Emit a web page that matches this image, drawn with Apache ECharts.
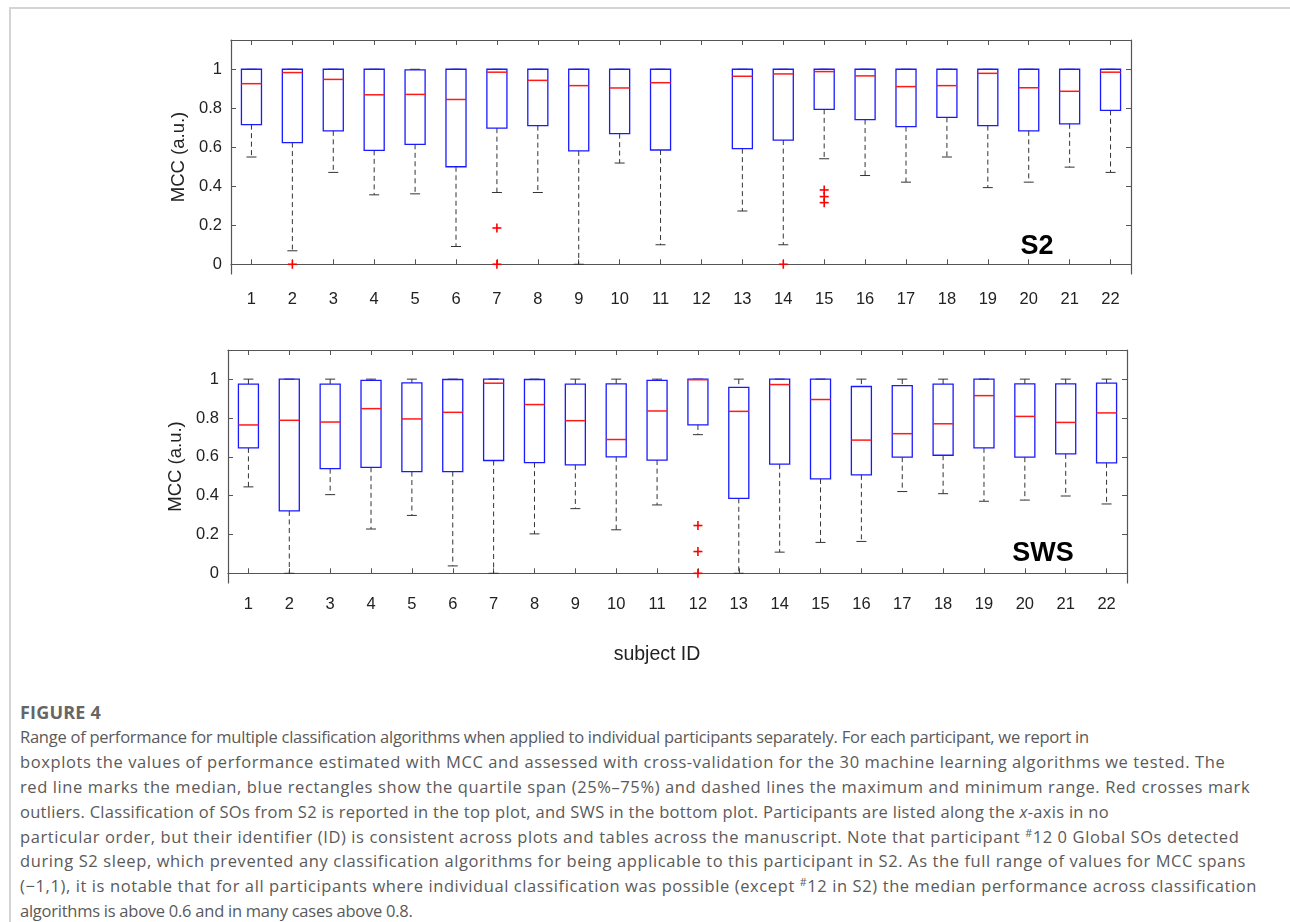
<!DOCTYPE html>
<html>
<head>
<meta charset="utf-8">
<script src="https://cdn.jsdelivr.net/npm/echarts@6/dist/echarts.min.js"></script>
<style>
  html, body { margin: 0; padding: 0; background: #fff; }
  #wrap { position: relative; width: 1290px; height: 922px; overflow: hidden; }
  #chart { position: absolute; left: 0; top: 0; width: 1290px; height: 690px; }
  #topline { position: absolute; left: 9px; top: 7px; width: 1281px; height: 2px; background: #d4d4d4; }
  #leftline { position: absolute; left: 9px; top: 7px; width: 2px; height: 915px; background: #d4d4d4; }
  #caption { position: absolute; left: 20px; top: 700px; color: #5a5a5a; font-family: "Open Sans", "Noto Sans", sans-serif; }
  #caption .fig { font-weight: 700; color: #666; font-size: 18px; letter-spacing: 0.2px; line-height: 25px; height: 25px; }
  #caption .ln { white-space: nowrap; line-height: 24.9px; height: 24.9px; }
  #caption sup { font-size: 0.65em; vertical-align: 0.55em; line-height: 0; }
</style>
</head>
<body>
<div id="wrap">
  <div id="chart"></div>
  <div id="topline"></div>
  <div id="leftline"></div>
  <div id="caption">
    <div class="fig">FIGURE 4</div>
    <div class="ln" data-w="1046">Range of performance for multiple classification algorithms when applied to individual participants separately. For each participant, we report in</div>
    <div class="ln" data-w="1253">boxplots the values of performance estimated with MCC and assessed with cross-validation for the 30 machine learning algorithms we tested. The</div>
    <div class="ln" data-w="1256">red line marks the median, blue rectangles show the quartile span (25%–75%) and dashed lines the maximum and minimum range. Red crosses mark</div>
    <div class="ln" data-w="1089">outliers. Classification of SOs from S2 is reported in the top plot, and SWS in the bottom plot. Participants are listed along the <i>x</i>-axis in no</div>
    <div class="ln" data-w="1256">particular order, but their identifier (ID) is consistent across plots and tables across the manuscript. Note that participant <sup>#</sup>12 0 Global SOs detected</div>
    <div class="ln" data-w="1256">during S2 sleep, which prevented any classification algorithms for being applicable to this participant in S2. As the full range of values for MCC spans</div>
    <div class="ln" data-w="1256">(−1,1), it is notable that for all participants where individual classification was possible (except <sup>#</sup>12 in S2) the median performance across classification</div>
    <div class="ln" data-w="391">algorithms is above 0.6 and in many cases above 0.8.</div>
  </div>
</div>
<script>
// ---------------- data ----------------
const subjects = ['1','2','3','4','5','6','7','8','9','10','11','12','13','14','15','16','17','18','19','20','21','22'];
const yTicks = [0, 0.2, 0.4, 0.6, 0.8, 1];

// S2 (top plot); subject 12 has no data
const s2Min = [0.55, 0.069, 0.471, 0.356, 0.361, 0.091, 0.368, 0.368, 0.0, 0.519, 0.10, null, 0.273, 0.10, 0.541, 0.455, 0.421, 0.55, 0.393, 0.421, 0.498, 0.471];
const s2Q1  = [0.716, 0.624, 0.684, 0.584, 0.615, 0.50, 0.698, 0.711, 0.581, 0.670, 0.586, null, 0.593, 0.637, 0.794, 0.742, 0.706, 0.753, 0.711, 0.684, 0.720, 0.789];
const s2Med = [0.926, 0.983, 0.948, 0.869, 0.871, 0.845, 0.985, 0.943, 0.916, 0.904, 0.931, null, 0.964, 0.976, 0.988, 0.966, 0.911, 0.916, 0.979, 0.905, 0.887, 0.985];
const s2Q3  = [1, 1, 1, 1, 0.997, 1, 1, 1, 1, 1, 1, null, 1, 1, 1, 1, 1, 1, 1, 1, 1, 1];
const s2Max = [1, 1, 1, 1, 1, 1, 1, 1, 1, 1, 1, null, 1, 1, 1, 1, 1, 1, 1, 1, 1, 1];
const s2OutlierSubject = ['2', '7', '7', '14', '15', '15', '15'];
const s2OutlierValue   = [0.0, 0.186, 0.0, 0.0, 0.381, 0.347, 0.316];

// SWS (bottom plot)
const swsMin = [0.445, 0.0, 0.405, 0.228, 0.298, 0.038, 0.0, 0.203, 0.333, 0.224, 0.352, 0.714, 0.0, 0.109, 0.159, 0.164, 0.421, 0.410, 0.371, 0.377, 0.398, 0.357];
const swsQ1  = [0.646, 0.321, 0.539, 0.546, 0.524, 0.524, 0.581, 0.570, 0.558, 0.600, 0.583, 0.764, 0.386, 0.562, 0.486, 0.507, 0.598, 0.608, 0.646, 0.598, 0.615, 0.569];
const swsMed = [0.764, 0.788, 0.779, 0.848, 0.795, 0.829, 0.979, 0.869, 0.786, 0.689, 0.836, 0.997, 0.834, 0.972, 0.895, 0.686, 0.719, 0.770, 0.915, 0.808, 0.777, 0.826];
const swsQ3  = [0.974, 1, 0.974, 0.994, 0.981, 0.998, 1, 0.998, 0.974, 0.976, 0.994, 1, 0.957, 1, 1, 0.962, 0.967, 0.974, 1, 0.976, 0.976, 0.979];
const swsMax = [1, 1, 1, 1, 1, 1, 1, 1, 1, 1, 1, 1, 1, 1, 1, 1, 1, 1, 1, 1, 1, 1];
const swsOutlierSubject = ['12', '12', '12'];
const swsOutlierValue   = [0.246, 0.112, 0.0];

// ---------------- build ----------------
function boxData(mn, q1, md, q3, mx) {
  const out = [];
  subjects.forEach((s, i) => {
    if (md[i] === null) return;
    out.push([i, mn[i], q1[i], md[i], q3[i], mx[i]]);
  });
  return out;
}
function outData(subj, vals) {
  return subj.map((s, i) => [subjects.indexOf(s), vals[i]]);
}

const WHISK = '#333';
function renderBox(params, api) {
  const i = api.value(0);
  const mn = api.value(1), q1 = api.value(2), md = api.value(3), q3 = api.value(4), mx = api.value(5);
  const pMin = api.coord([i, mn]), pQ1 = api.coord([i, q1]), pMd = api.coord([i, md]);
  const pQ3 = api.coord([i, q3]), pMx = api.coord([i, mx]);
  const bw = api.size([1, 0])[0] * 0.49;
  const cx = pMd[0];
  const cap = 5;
  const children = [];
  const dashed = { stroke: WHISK, lineWidth: 1, lineDash: [5, 3.5] };
  const solid = { stroke: WHISK, lineWidth: 1 };
  if (pMin[1] - pQ1[1] > 0.5) {
    children.push({ type: 'line', shape: { x1: cx, y1: pQ1[1], x2: cx, y2: pMin[1] }, style: dashed });
  }
  children.push({ type: 'line', shape: { x1: cx - cap, y1: pMin[1], x2: cx + cap, y2: pMin[1] }, style: solid });
  if (pQ3[1] - pMx[1] > 0.5) {
    children.push({ type: 'line', shape: { x1: cx, y1: pMx[1], x2: cx, y2: pQ3[1] }, style: dashed });
  }
  children.push({ type: 'line', shape: { x1: cx - cap, y1: pMx[1], x2: cx + cap, y2: pMx[1] }, style: solid });
  children.push({ type: 'rect', shape: { x: cx - bw / 2, y: pQ3[1], width: bw, height: pQ1[1] - pQ3[1] },
                  style: { fill: null, stroke: '#1a1aff', lineWidth: 1.3 } });
  children.push({ type: 'line', shape: { x1: cx - bw / 2, y1: pMd[1], x2: cx + bw / 2, y2: pMd[1] },
                  style: { stroke: '#ff1a1a', lineWidth: 1.5 } });
  return { type: 'group', children: children };
}
function renderPlus(params, api) {
  const p = api.coord([api.value(0), api.value(1)]);
  const h = 4.5;
  return { type: 'group', children: [
    { type: 'line', shape: { x1: p[0] - h, y1: p[1], x2: p[0] + h, y2: p[1] }, style: { stroke: '#ff0000', lineWidth: 1.6 } },
    { type: 'line', shape: { x1: p[0], y1: p[1] - h, x2: p[0], y2: p[1] + h }, style: { stroke: '#ff0000', lineWidth: 1.6 } }
  ]};
}

const AX = '#555';
const FONT = '"Liberation Sans", Arial, sans-serif';
const LABEL_FONT = { color: '#222', fontSize: 16.5, fontFamily: FONT };

function xAxes(gridIndex, margin) {
  return [
    { type: 'category', gridIndex, data: subjects, position: 'bottom', boundaryGap: true,
      axisLine: { show: true, lineStyle: { color: AX, width: 1.2 } },
      axisTick: { show: true, inside: true, alignWithLabel: true, length: 5, lineStyle: { color: AX } },
      axisLabel: Object.assign({ margin: margin, interval: 0 }, LABEL_FONT),
      splitLine: { show: false } },
    { type: 'category', gridIndex, data: subjects, position: 'top', boundaryGap: true,
      axisLine: { show: true, onZero: false, lineStyle: { color: AX, width: 1.2 } },
      axisTick: { show: true, inside: true, alignWithLabel: true, length: 5, lineStyle: { color: AX } },
      axisLabel: { show: false }, splitLine: { show: false } }
  ];
}
function yAxes(gridIndex) {
  return [
    { type: 'value', gridIndex, min: -0.05, max: 1.15, position: 'left',
      name: 'MCC (a.u.)', nameLocation: 'middle', nameGap: 36,
      nameTextStyle: { color: '#222', fontSize: 18.5, fontFamily: FONT },
      axisLine: { show: true, onZero: false, lineStyle: { color: AX, width: 1.2 } },
      axisTick: { show: true, inside: true, length: 5, customValues: yTicks, lineStyle: { color: AX } },
      axisLabel: Object.assign({ margin: 9, customValues: yTicks }, LABEL_FONT),
      splitLine: { show: false } },
    { type: 'value', gridIndex, min: -0.05, max: 1.15, position: 'right',
      axisLine: { show: true, onZero: false, lineStyle: { color: AX, width: 1.2 } },
      axisTick: { show: true, inside: true, length: 5, customValues: yTicks, lineStyle: { color: AX } },
      axisLabel: { show: false }, splitLine: { show: false } }
  ];
}

const chart = echarts.init(document.getElementById('chart'), null, { renderer: 'canvas' });
chart.setOption({
  animation: false,
  backgroundColor: 'transparent',
  grid: [
    { left: 231, right: 159, top: 40, height: 234, containLabel: false },
    { left: 228, right: 163, top: 350, height: 233, containLabel: false }
  ],
  xAxis: [].concat(xAxes(0, 17), xAxes(1, 13)),
  yAxis: [].concat(yAxes(0), yAxes(1)),
  series: [
    { type: 'custom', name: 'S2', xAxisIndex: 0, yAxisIndex: 0, renderItem: renderBox,
      encode: { x: 0, y: [1, 2, 3, 4, 5] }, data: boxData(s2Min, s2Q1, s2Med, s2Q3, s2Max), z: 2 },
    { type: 'custom', name: 'S2 outliers', xAxisIndex: 0, yAxisIndex: 0, renderItem: renderPlus,
      encode: { x: 0, y: 1 }, data: outData(s2OutlierSubject, s2OutlierValue), z: 3 },
    { type: 'custom', name: 'SWS', xAxisIndex: 2, yAxisIndex: 2, renderItem: renderBox,
      encode: { x: 0, y: [1, 2, 3, 4, 5] }, data: boxData(swsMin, swsQ1, swsMed, swsQ3, swsMax), z: 2 },
    { type: 'custom', name: 'SWS outliers', xAxisIndex: 2, yAxisIndex: 2, renderItem: renderPlus,
      encode: { x: 0, y: 1 }, data: outData(swsOutlierSubject, swsOutlierValue), z: 3 }
  ],
  graphic: [
    { type: 'text', x: 1037, y: 247, style: { text: 'S2', fill: '#000', font: 'bold 27px ' + FONT, textAlign: 'center', textVerticalAlign: 'middle' } },
    { type: 'text', x: 1043, y: 554, style: { text: 'SWS', fill: '#000', font: 'bold 27px ' + FONT, textAlign: 'center', textVerticalAlign: 'middle' } },
    { type: 'text', x: 657, y: 655, style: { text: 'subject ID', fill: '#222', font: '19.5px ' + FONT, textAlign: 'center', textVerticalAlign: 'middle' } }
  ]
});

// caption: one font size for all lines, with a small, clamped per-line letter-spacing toward the reference line lengths
(function fitCaption() {
  const lines = Array.from(document.querySelectorAll('#caption .ln'));
  lines.forEach(l => { l.style.fontSize = '16px'; l.style.letterSpacing = '0px'; });
  const measure = l => { const r = document.createRange(); r.selectNodeContents(l); return r.getBoundingClientRect().width; };
  let sumT = 0, sumM = 0;
  lines.forEach(l => { sumT += +l.dataset.w; sumM += measure(l); });
  const size = Math.min(16.5, 16 * sumT / sumM);
  lines.forEach(l => { l.style.fontSize = size.toFixed(2) + 'px'; });
  lines.forEach(l => {
    const n = l.textContent.length;
    const ls = Math.max(-0.25, Math.min(0.6, (+l.dataset.w - measure(l)) / n));
    l.style.letterSpacing = ls.toFixed(3) + 'px';
  });
})();
</script>
</body>
</html>
